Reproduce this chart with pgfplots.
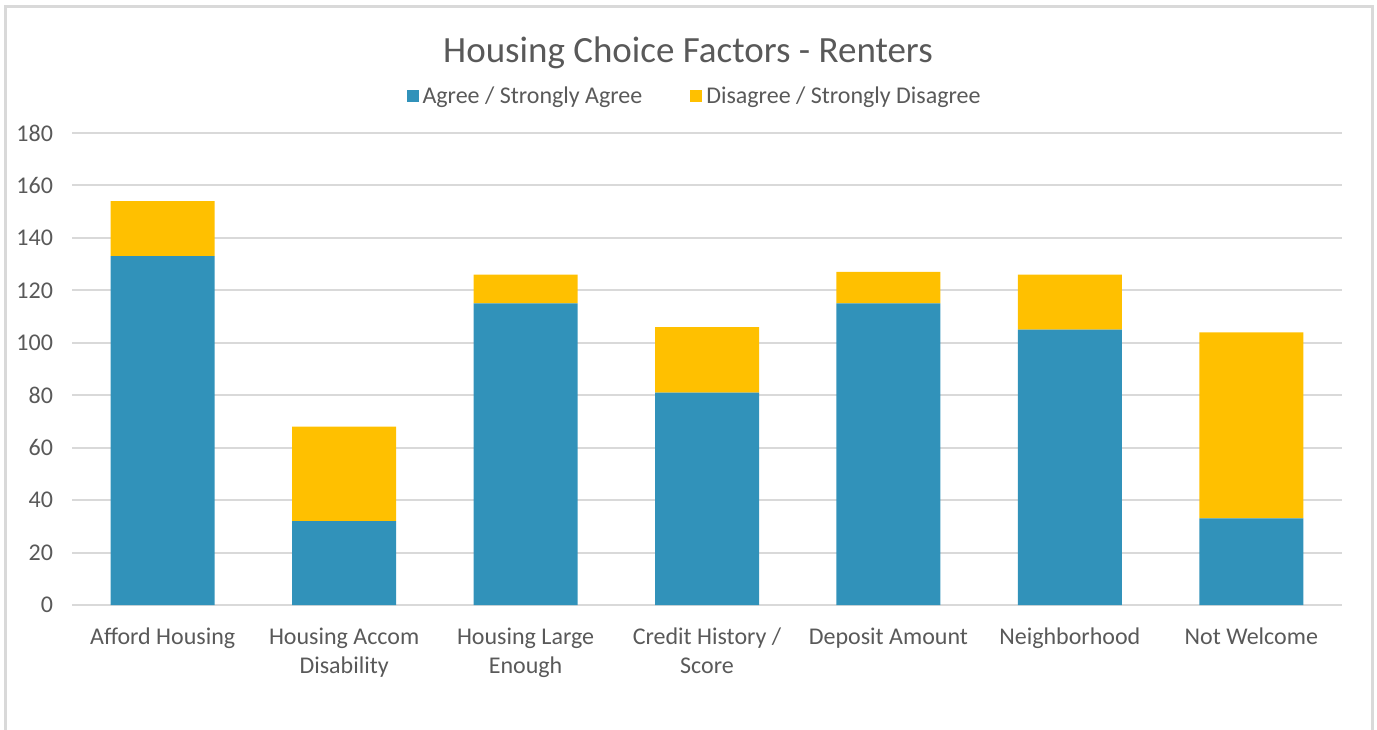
\documentclass[border=0pt]{standalone}
\usepackage{fontspec}
\setmainfont{Carlito}
\usepackage{pgfplots}
\pgfplotsset{compat=1.18}
\definecolor{agree}{HTML}{3192BA}
\definecolor{disagree}{HTML}{FFC000}
\definecolor{txt}{HTML}{595959}
\definecolor{gridc}{HTML}{D9D9D9}
\begin{document}
\begin{tikzpicture}[x=1pt,y=1pt]
\useasboundingbox (0,0) rectangle (688.5,364.5);
\draw[gridc, line width=1.5pt] (2.5,-2) -- (2.5,361) -- (686,361) -- (686,-2);
\node[txt, font=\fontsize{18.5}{22}\selectfont] at (344,338) {Housing Choice Factors - Renters};
\begin{axis}[
  at={(36pt,62pt)}, anchor=south west,
  scale only axis, width=635pt, height=236pt,
  ybar stacked, bar width=52pt,
  xmin=-0.5, xmax=6.5, ymin=0, ymax=180,
  ytick={0,20,...,180},
  xtick=data,
  xticklabels={Afford Housing,{Housing Accom\\Disability},{Housing Large\\Enough},{Credit History /\\Score},Deposit Amount,Neighborhood,Not Welcome},
  xticklabel style={align=center, font=\fontsize{12}{14.5}\selectfont, text=txt, yshift=-8pt},
  yticklabel style={font=\fontsize{12}{14.5}\selectfont, text=txt, xshift=-6pt},
  /pgf/number format/assume math mode=true,
  major tick length=0pt,
  ymajorgrids, grid style={gridc, line width=1pt},
  axis x line*=bottom, axis y line*=left,
  x axis line style={gridc, line width=1pt, -},
  y axis line style={draw=none},
  legend style={at={(axis description cs:0.491,1.078)}, anchor=center, draw=none, fill=none,
    legend columns=2, font=\fontsize{12}{14.5}\selectfont, text=txt,
    /tikz/every even column/.style={column sep=22pt}},
  legend cell align=left,
  legend image code/.code={\fill[#1] (-1.5pt,-3pt) rectangle (4.5pt,3pt);},
]
\addplot[fill=agree, draw=none] coordinates {(0,133) (1,32) (2,115) (3,81) (4,115) (5,105) (6,33)};
\addplot[fill=disagree, draw=none] coordinates {(0,21) (1,36) (2,11) (3,25) (4,12) (5,21) (6,71)};
\legend{Agree / Strongly Agree, Disagree / Strongly Disagree}
\end{axis}
\end{tikzpicture}
\end{document}
